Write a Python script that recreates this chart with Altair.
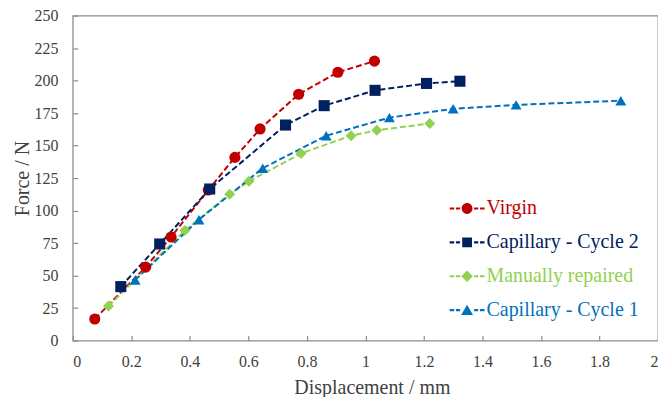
import altair as alt
import pandas as pd

series_names = ["Virgin", "Capillary - Cycle 2", "Manually repaired", "Capillary - Cycle 1"]
series_colors = ["#C00000", "#002060", "#92D050", "#0070C0"]
series_shapes = ["circle", "square", "diamond", "triangle-up"]
series_sizes = [125, 120, 165, 190]

virgin_x = [0.075, 0.249, 0.336, 0.463, 0.554, 0.640, 0.772, 0.906, 1.031]
virgin_y = [16.6, 56.5, 79.7, 115.8, 140.9, 162.8, 189.5, 206.4, 215.0]
cap2_x = [0.164, 0.297, 0.468, 0.727, 0.859, 1.033, 1.209, 1.323]
cap2_y = [41.5, 74.3, 116.6, 165.8, 180.7, 192.5, 197.8, 199.5]
manual_x = [0.122, 0.383, 0.536, 0.602, 0.780, 0.951, 1.039, 1.220]
manual_y = [26.6, 84.7, 112.6, 122.6, 143.9, 157.6, 161.8, 167.0]
cap1_x = [0.213, 0.431, 0.649, 0.866, 1.082, 1.300, 1.515, 1.873]
cap1_y = [46.6, 93.0, 132.6, 157.6, 171.5, 178.3, 181.3, 184.5]

x_ticks = [0, 0.2, 0.4, 0.6, 0.8, 1.0, 1.2, 1.4, 1.6, 1.8, 2.0]
y_ticks = [0, 25, 50, 75, 100, 125, 150, 175, 200, 225, 250]

rows = []
for name, xs, ys in zip(series_names,
                        [virgin_x, cap2_x, manual_x, cap1_x],
                        [virgin_y, cap2_y, manual_y, cap1_y]):
    for xv, yv in zip(xs, ys):
        rows.append({"series": name, "disp": xv, "force": yv})
df = pd.DataFrame(rows)

# legend symbols: dashed line segments with the marker in the middle
dashes = ("M-1,-0.06H-0.74V0.06H-1Z M-0.64,-0.06H-0.4V0.06H-0.64Z "
          "M0.4,-0.06H0.64V0.06H0.4Z M0.74,-0.06H1V0.06H0.74Z ")
legend_paths = [
    dashes + "M0.31,0A0.31,0.31,0,1,1,-0.31,0A0.31,0.31,0,1,1,0.31,0Z",
    dashes + "M-0.28,-0.28H0.28V0.28H-0.28Z",
    dashes + "M0,-0.33L0.33,0L0,0.33L-0.33,0Z",
    dashes + "M0,-0.31L0.34,0.27L-0.34,0.27Z",
]

label_color_expr = "".join(
    f"datum.value === '{n}' ? '{c}' : " for n, c in zip(series_names, series_colors)
) + "'#000000'"

FONT = "Liberation Serif"
GRAY = "#8c8c8c"
TEXT = "#404040"

x_axis = alt.Axis(values=x_ticks, format="~g", title="Displacement / mm",
                  domain=False, grid=False, offset=-5, tickSize=5,
                  tickColor=GRAY, tickWidth=1.2, labelPadding=13,
                  labelFontSize=16, labelFont=FONT, labelColor=TEXT,
                  labelOverlap=False, titleX=300,
                  titleFont=FONT, titleFontSize=20, titleFontWeight="normal",
                  titleColor=TEXT, titlePadding=8)
y_axis = alt.Axis(values=y_ticks, title="Force / N",
                  domain=False, grid=False, offset=-5, tickSize=5,
                  tickColor=GRAY, tickWidth=1.2, labelPadding=15,
                  labelFontSize=16, labelFont=FONT, labelColor=TEXT,
                  labelOverlap=False,
                  titleFont=FONT, titleFontSize=20, titleFontWeight="normal",
                  titleColor=TEXT, titlePadding=1)

x_enc = alt.X("disp:Q", scale=alt.Scale(domain=[0, 2], nice=False), axis=x_axis)
y_enc = alt.Y("force:Q", scale=alt.Scale(domain=[0, 250], nice=False), axis=y_axis)

color_scale = alt.Scale(domain=series_names, range=series_colors)

base = alt.Chart(df)

lines = base.mark_line(strokeDash=[6, 3], strokeWidth=2).encode(
    x=x_enc, y=y_enc,
    color=alt.Color("series:N", scale=color_scale, legend=None),
)

points = base.mark_point(filled=True, opacity=1).encode(
    x=x_enc, y=y_enc,
    color=alt.Color("series:N", scale=color_scale, legend=None),
    shape=alt.Shape("series:N", scale=alt.Scale(domain=series_names, range=series_shapes), legend=None),
    size=alt.Size("series:N", scale=alt.Scale(domain=series_names, range=series_sizes), legend=None),
)

leg = alt.Legend(title=None, orient="none", legendX=378, legendY=176,
                 symbolSize=1225, symbolStrokeWidth=0, rowPadding=6, labelOffset=2,
                 labelFont=FONT, labelFontSize=20, labelLimit=400,
                 labelColor=alt.ExprRef(label_color_expr), padding=0)

legend_layer = base.transform_filter("false").mark_point(filled=True, opacity=1).encode(
    x=x_enc, y=y_enc,
    color=alt.Color("series:N", scale=color_scale, legend=leg),
    shape=alt.Shape("series:N", scale=alt.Scale(domain=series_names, range=legend_paths), legend=leg),
)

chart = alt.layer(lines, points, legend_layer).resolve_scale(
    color="independent", shape="independent"
).properties(
    width=587, height=326,
    autosize=alt.AutoSizeParams(type="none"),
    padding={"left": 65, "top": 7, "right": 0, "bottom": 56},
).configure_view(stroke=GRAY, strokeWidth=1.3)

chart.save("out.html", embed_options={"renderer": "svg", "actions": False})
